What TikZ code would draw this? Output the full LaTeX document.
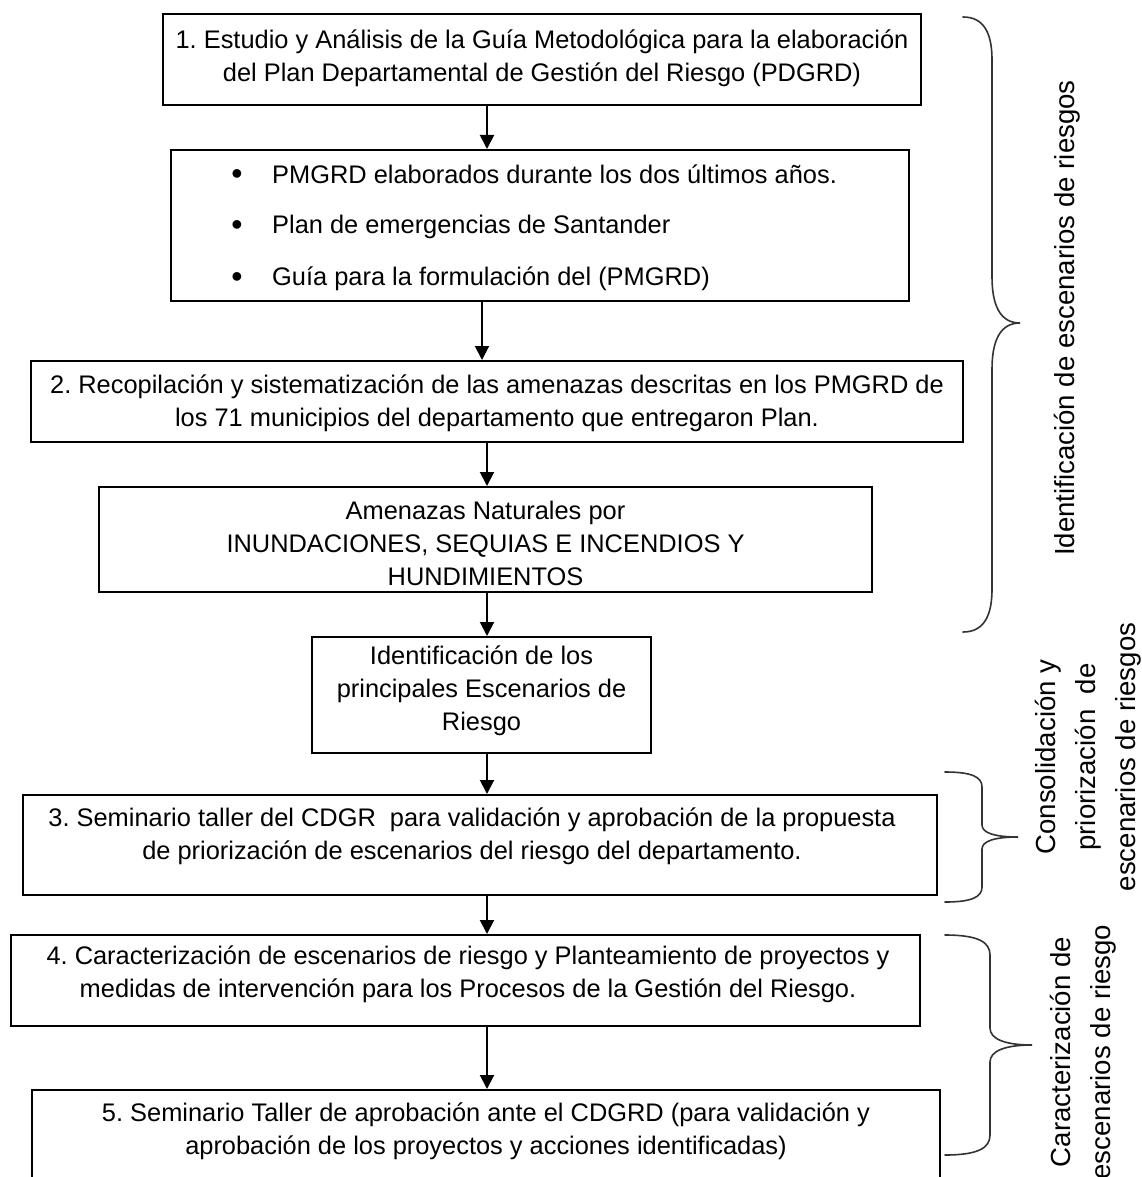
\documentclass[tikz,border=0pt]{standalone}
\usepackage{fontspec}
\setmainfont{Liberation Sans}
\usetikzlibrary{arrows.meta}
\begin{document}
\frenchspacing
\begin{tikzpicture}[x=1pt,y=-1pt,
  box/.style={draw, line width=2pt, inner sep=0pt},
  txt/.style={align=center, font=\fontsize{25.4}{33}\selectfont, inner sep=0pt},
  btxt/.style={font=\fontsize{25.4}{33}\selectfont, inner sep=0pt, anchor=base west},
  bul/.style={font=\fontsize{32}{33}\selectfont, inner sep=0pt, anchor=base},
  side/.style={align=center, rotate=90, font=\fontsize{27.6}{40}\selectfont, inner sep=0pt},
  arr/.style={line width=2pt, -{Triangle[width=14pt,length=14pt]}},
  bracestyle/.style={line width=1.6pt, black!80, line cap=round}]
\useasboundingbox (0,0) rectangle (1141,1177);

% boxes
\node[box, minimum width=758pt, minimum height=91pt] (b1) at (542,59.5) {};
\node[box, minimum width=738pt, minimum height=151pt] (b2) at (540,225.5) {};
\node[box, minimum width=932pt, minimum height=81pt] (b3) at (497,401.5) {};
\node[box, minimum width=773pt, minimum height=105pt] (b4) at (485.5,539.5) {};
\node[box, minimum width=339pt, minimum height=116pt] (b5) at (481.5,695) {};
\node[box, minimum width=914pt, minimum height=100pt] (b6) at (480,845) {};
\node[box, minimum width=909pt, minimum height=91pt] (b7) at (465.5,980.5) {};
\node[box, minimum width=908pt, minimum height=110pt] (b8) at (486,1145) {};

% texts
\node[txt] (t1) at (542,58) {1. Estudio y Análisis de la Guía Metodológica para la elaboración\\del Plan Departamental de Gestión del Riesgo (PDGRD)};
\node[bul] (u1) at (237,185) {•};
\node[btxt] (v1) at (272,183) {PMGRD elaborados durante los dos últimos años.};
\node[bul] (u2) at (237,235) {•};
\node[btxt] (v2) at (272,233) {Plan de emergencias de Santander};
\node[bul] (u3) at (237,287) {•};
\node[btxt] (v3) at (272,285) {Guía para la formulación del (PMGRD)};
\node[txt] (t3) at (497,403.5) {2. Recopilación y sistematización de las amenazas descritas en los PMGRD de\\los 71 municipios del departamento que entregaron Plan.};
\node[txt] (t4) at (485.5,543) {Amenazas Naturales por\\INUNDACIONES, SEQUIAS E INCENDIOS Y\\HUNDIMIENTOS};
\node[txt] (t5) at (481.5,691) {Identificación de los\\principales Escenarios de\\Riesgo};
\node[txt] (t6) at (472,836) {3. Seminario taller del CDGR\ \ para validación y aprobación de la propuesta\\de priorización de escenarios del riesgo del departamento.};
\node[txt] (t7) at (468,974) {4. Caracterización de escenarios de riesgo y Planteamiento de proyectos y\\medidas de intervención para los Procesos de la Gestión del Riesgo.};
\node[txt] (t8) at (486,1131) {5. Seminario Taller de aprobación ante el CDGRD (para validación y\\aprobación de los proyectos y acciones identificadas)};

% arrows
\coordinate (ax) at (487,0);
\coordinate (ay) at (482,0);
\draw[arr] (b1.south -| ax) -- (b2.north -| ax);
\draw[arr] (b2.south -| ay) -- (b3.north -| ay);
\draw[arr] (b3.south -| ax) -- (b4.north -| ax);
\draw[arr] (b4.south -| ax) -- (b5.north -| ax);
\draw[arr] (b5.south -| ax) -- (b6.north -| ax);
\draw[arr] (b6.south -| ax) -- (b7.north -| ax);
\draw[arr] (b7.south -| ax) -- (b8.north -| ax);

% braces
\draw[bracestyle] (963,17) .. controls (985,17) and (992,35) .. (992,60) -- (992,277)
  .. controls (992,305) and (1000,323) .. (1020,323)
  .. controls (1000,323) and (992,341) .. (992,369) -- (992,589)
  .. controls (992,614) and (985,632) .. (963,632);
\draw[bracestyle] (945,772) .. controls (972,772) and (982,777) .. (982,787) -- (982,825)
  .. controls (982,833) and (995,837) .. (1018,837)
  .. controls (995,837) and (982,841) .. (982,849) -- (982,887)
  .. controls (982,897) and (972,902) .. (945,902);
\draw[bracestyle] (945,935) .. controls (978,935) and (990,942) .. (990,955) -- (990,1028)
  .. controls (990,1039) and (1005,1045) .. (1032,1045)
  .. controls (1005,1045) and (990,1051) .. (990,1062) -- (990,1135)
  .. controls (990,1148) and (978,1155) .. (945,1155);

% side labels
\node[side] (l1) at (1067,318) {Identificación de escenarios de riesgos};
\node[side] (l2) at (1088,757) {Consolidación y\\priorización\ \ de\\escenarios de riesgos};
\node[side] (l3) at (1083,1052) {Caracterización de\\escenarios de riesgo};
\end{tikzpicture}
\end{document}
